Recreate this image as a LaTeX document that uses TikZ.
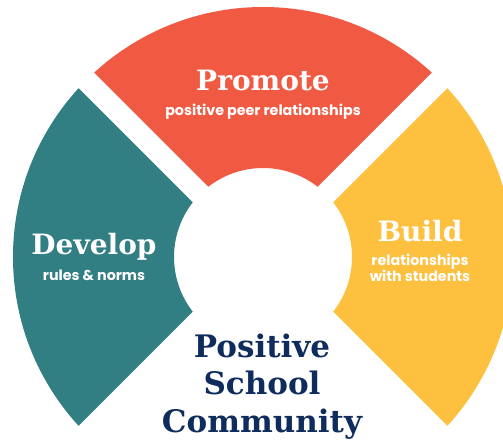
\documentclass[tikz,border=0pt]{standalone}
\usepackage{fontspec}
\usepackage{tikz}
\usepackage{xcolor}
\setmainfont{DejaVu Serif}
\newfontfamily\subfont{Poppins}
\definecolor{promoteorange}{HTML}{F05A42}
\definecolor{developteal}{HTML}{317E83}
\definecolor{buildyellow}{HTML}{FDC03F}
\definecolor{communitynavy}{HTML}{0E2C5C}

\begin{document}
\begin{tikzpicture}[x=1pt, y=1pt,
    head/.style={text=white, font=\fontsize{28}{30}\selectfont\bfseries, anchor=base, inner sep=0pt},
    sub/.style={text=white, font=\fontsize{14.3}{15.5}\selectfont\subfont\bfseries, anchor=base, inner sep=0pt, align=center},
    title/.style={text=communitynavy, font=\fontsize{31}{37.5}\selectfont\bfseries, anchor=base, inner sep=0pt, align=center},
    ring/.style={even odd rule}]

  \useasboundingbox (-263,-183) rectangle (240,257);
  \clip (-263,-183) rectangle (240,257);

  \begin{scope}
    \clip (0,15.6) -- (-320,335.6) -- (320,335.6) -- cycle;
    \fill[promoteorange, ring] (0,0) circle (250pt) circle (89pt);
  \end{scope}
  \begin{scope}
    \clip (-15.6,0) -- (-335.6,320) -- (-335.6,-320) -- cycle;
    \fill[developteal, ring] (0,0) circle (250pt) circle (89pt);
  \end{scope}
  \begin{scope}
    \clip (15.6,0) -- (335.6,320) -- (335.6,-320) -- cycle;
    \fill[buildyellow, ring] (0,0) circle (250pt) circle (89pt);
  \end{scope}

  \node[head] (promote) at (0,167) {Promote};
  \node[sub] (promote sub) at ([yshift=-25pt]promote.base) {positive peer relationships};

  \node[head] (develop) at (-169,3) {Develop};
  \node[sub] (develop sub) at ([yshift=-26pt]develop.base) {rules \& norms};

  \node[head] (build) at (157,16) {Build};
  \node[sub] (build sub) at ([yshift=-40pt]build.base) {relationships\\with students};

  \node[title] (community) at (-1,-175) {Positive\\School\\Community};
\end{tikzpicture}
\end{document}
